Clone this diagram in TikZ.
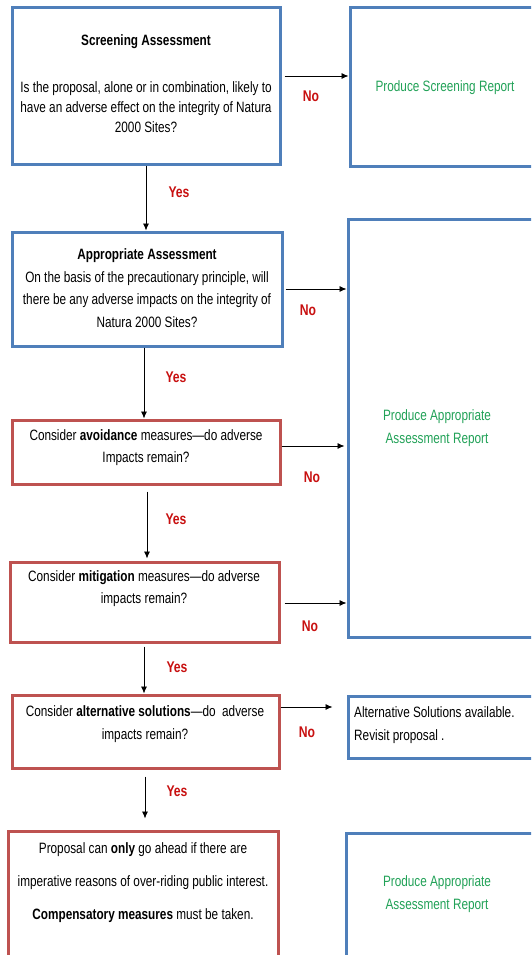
\documentclass[tikz,border=0pt]{standalone}
\usepackage{fontspec}
\setmainfont{Liberation Sans}[FakeStretch=0.785]
\usetikzlibrary{arrows.meta,calc}
\definecolor{bblue}{RGB}{79,127,186}
\definecolor{bred}{RGB}{190,82,80}
\definecolor{tgreen}{RGB}{34,162,88}
\definecolor{tred}{RGB}{200,16,16}
\begin{document}
\begin{tikzpicture}[x=1pt,y=-1pt,
  box/.style={draw,line width=3pt,rectangle,inner sep=0pt,fill=white},
  bluebox/.style={box,draw=bblue},
  redbox/.style={box,draw=bred},
  txt/.style={inner sep=0pt,align=center,font=\fontsize{15}{20}\selectfont},
  gtxt/.style={txt,text=tgreen},
  yn/.style={inner sep=0pt,text=tred,font=\fontsize{15.5}{17}\selectfont\bfseries},
  arr/.style={-{Latex[length=7pt,width=6pt]},line width=0.8pt}]
\useasboundingbox (0,0) rectangle (531,955);
\clip (0,0) rectangle (531,955);
\fill[white] (0,0) rectangle (531,955);
% boxes
\node[bluebox,minimum width=268,minimum height=156] (b1) at (146,86) {};
\node[bluebox,minimum width=210,minimum height=158] (r1) at (455,87) {};
\node[bluebox,minimum width=270,minimum height=114] (b2) at (147,289) {};
\node[bluebox,minimum width=212,minimum height=418] (r2) at (454,428) {};
\node[redbox,minimum width=268,minimum height=64] (b3) at (146,452) {};
\node[redbox,minimum width=269,minimum height=80] (b4) at (144.5,602) {};
\node[redbox,minimum width=267,minimum height=73] (b5) at (145.5,731.5) {};
\node[bluebox,minimum width=212,minimum height=62] (r5) at (454,727) {};
\node[redbox,minimum width=270,minimum height=144] (b6) at (143,903) {};
\node[bluebox,minimum width=214,minimum height=142] (r6) at (453,904) {};
% texts
\node[txt] (t1a) at (146,42) {\bfseries Screening Assessment};
\node[txt] (t1b) at (146,107) {Is the proposal, alone or in combination, likely to\\have an adverse effect on the integrity of Natura\\2000 Sites?};
\node[gtxt] (tr1) at (445,88) {Produce Screening Report};
\node[txt] (t2) at (147,288) {\bfseries Appropriate Assessment\\[2.7pt]On the basis of the precautionary principle, will\\[2.7pt]there be any adverse impacts on the integrity of\\[2.7pt]Natura 2000 Sites?};
\node[gtxt] (tr2) at (437,428.5) {Produce Appropriate\\[3pt]Assessment Report};
\node[txt] (t3) at (146,448) {Consider \textbf{avoidance} measures---do adverse\\[2pt]Impacts remain?};
\node[txt] (t4) at (144,589) {Consider \textbf{mitigation} measures---do adverse\\[2pt]impacts remain?};
\node[txt] (t5) at (145,724.5) {Consider \textbf{alternative solutions}---do\ \ adverse\\[3pt]impacts remain?};
\node[txt,align=left,anchor=west] (tr5) at (354,725.5) {Alternative Solutions available.\\[3pt]Revisit proposal .};
\node[txt,font=\fontsize{15}{33}\selectfont] (t6) at (143,882.5) {Proposal can \textbf{only} go ahead if there are\\imperative reasons of over-riding public interest.\\\textbf{Compensatory measures} must be taken.};
\node[gtxt] (tr6) at (437,894.5) {Produce Appropriate\\[3pt]Assessment Report};
% yes / no labels
\node[yn] (n1) at (311,96) {No};
\node[yn] (y1) at (179,192) {Yes};
\node[yn] (n2) at (308,310) {No};
\node[yn] (y2) at (176,377) {Yes};
\node[yn] (n3) at (312,477) {No};
\node[yn] (y3) at (176,519) {Yes};
\node[yn] (n4) at (310,626) {No};
\node[yn] (y4) at (177,667) {Yes};
\node[yn] (n5) at (307,732) {No};
\node[yn] (y5) at (177,791) {Yes};
% horizontal arrows
\draw[arr] ([xshift=3pt]b1.east |- 0,76) -- (r1.west |- 0,76);
\draw[arr] ([xshift=2pt]b2.east |- 0,289) -- (r2.west |- 0,289);
\draw[arr] (b3.east |- 0,446) -- ([xshift=-2pt]r2.west |- 0,446);
\draw[arr] ([xshift=4pt]b4.east |- 0,603) -- (r2.west |- 0,603);
\draw[arr] (b5.east |- 0,707) -- ([xshift=-14pt]r5.west |- 0,707);
% vertical arrows
\draw[arr] (b1.south) -- (b1.south |- b2.north);
\draw[arr] (b2.south -| 144,0) -- (b3.north -| 144,0);
\draw[arr] ([yshift=-6pt]b3.south -| 147,0) -- ([yshift=2pt]b4.north -| 147,0);
\draw[arr] ([yshift=-3pt]b4.south -| 144,0) -- (b5.north -| 144,0);
\draw[arr] ([yshift=-7pt]b5.south -| 145,0) -- ([yshift=11pt]b6.north -| 145,0);
\end{tikzpicture}
\end{document}
